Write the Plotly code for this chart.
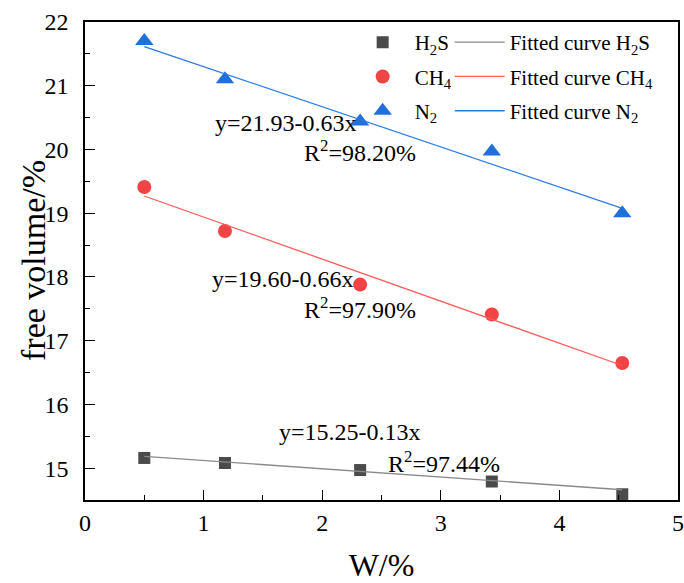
import plotly.graph_objects as go

# ---- data ----
w_h2s = [0.50, 1.18, 2.32, 3.43, 4.53]
fv_h2s = [15.16, 15.08, 14.97, 14.79, 14.59]
w_ch4 = [0.50, 1.18, 2.32, 3.43, 4.53]
fv_ch4 = [19.41, 18.72, 17.88, 17.41, 16.65]
w_n2 = [0.50, 1.18, 2.32, 3.43, 4.53]
fv_n2 = [21.70, 21.10, 20.44, 19.97, 19.00]

# fitted line coefficients (from the chart's equations)
fit_intercepts = [15.25, 19.60, 21.93]
fit_slopes = [-0.13, -0.66, -0.63]
fit_labels = ["y=15.25-0.13x", "y=19.60-0.66x", "y=21.93-0.63x"]
r2_labels = ["R<sup>2</sup>=97.44%", "R<sup>2</sup>=97.90%", "R<sup>2</sup>=98.20%"]
names = ["H<sub>2</sub>S", "CH<sub>4</sub>", "N<sub>2</sub>"]
x_title = "W/%"
y_title = "free volume/%"

FONT = "Liberation Serif, Times New Roman, serif"
marker_colors = ["#4a4a4a", "#f24444", "#1f6fdc"]
line_colors = ["#8a8a8a", "#ff5a5a", "#2b7be4"]
symbols = ["square", "circle", "triangle-up"]
msizes = [12, 14, 16]

series_x = [w_h2s, w_ch4, w_n2]
series_y = [fv_h2s, fv_ch4, fv_n2]

fig = go.Figure()
for i in range(3):
    xs = series_x[i]
    fig.add_trace(go.Scatter(
        x=xs, y=series_y[i], mode="markers", name=names[i],
        marker=dict(symbol=symbols[i], size=msizes[i], color=marker_colors[i]),
        legend="legend", legendgroup="m%d" % i, cliponaxis=False,
    ))
for i in range(3):
    xs = series_x[i]
    xl = [xs[0], xs[-1]]
    yl = [fit_intercepts[i] + fit_slopes[i] * v for v in xl]
    fig.add_trace(go.Scatter(
        x=xl, y=yl, mode="lines", name="Fitted curve " + names[i],
        line=dict(color=line_colors[i], width=1.3),
        legend="legend2", legendgroup="f%d" % i,
    ))

# annotations (equation, R2) positions in data coordinates
eq_pos = [(1.62, 15.56), (1.05, 17.96), (1.08, 20.41)]
r2_pos = [(2.54, 15.10), (1.83, 17.52), (1.83, 19.98)]
for i in range(3):
    fig.add_annotation(x=eq_pos[i][0], y=eq_pos[i][1], text=fit_labels[i],
                       showarrow=False, xanchor="left", yanchor="middle",
                       font=dict(family=FONT, size=24, color="black"))
    fig.add_annotation(x=r2_pos[i][0], y=r2_pos[i][1], text=r2_labels[i],
                       showarrow=False, xanchor="left", yanchor="middle",
                       font=dict(family=FONT, size=24, color="black"))

# y-axis title as rotated text left of the tick labels
fig.add_annotation(xref="paper", yref="paper", x=0, y=0.5, xshift=-52,
                   text=y_title, textangle=-90, showarrow=False,
                   xanchor="center", yanchor="middle",
                   font=dict(family=FONT, size=34, color="black"))

axis_common = dict(
    showline=True, linecolor="black", linewidth=1.5, mirror=True,
    ticks="inside", ticklen=10, tickwidth=1.2, tickcolor="black",
    showgrid=False, zeroline=False, automargin=False,
    tickfont=dict(family=FONT, size=24, color="black"),
)

fig.update_layout(
    width=684, height=583,
    margin=dict(l=85, r=6, t=22, b=83),
    paper_bgcolor="white", plot_bgcolor="white",
    font=dict(family=FONT, color="black"),
    showlegend=True,
    xaxis=dict(range=[0, 5], dtick=1, tick0=0,
               minor=dict(dtick=0.5, ticks="inside", ticklen=5, tickcolor="black"),
               title=dict(text=x_title, font=dict(family=FONT, size=32), standoff=27),
               **axis_common),
    yaxis=dict(range=[14.5, 22], dtick=1, tick0=0,
               ticklabelstandoff=10,
               minor=dict(dtick=0.5, ticks="inside", ticklen=5, tickcolor="black"),
               **axis_common),
    legend=dict(x=0.448, y=1.0, xanchor="left", yanchor="top",
                bgcolor="rgba(0,0,0,0)", font=dict(family=FONT, size=21),
                itemwidth=54, tracegroupgap=4),
    legend2=dict(x=0.615, y=1.0, xanchor="left", yanchor="top",
                 bgcolor="rgba(0,0,0,0)", font=dict(family=FONT, size=21),
                 itemwidth=50, tracegroupgap=4),
)

fig.write_html("out.html")
